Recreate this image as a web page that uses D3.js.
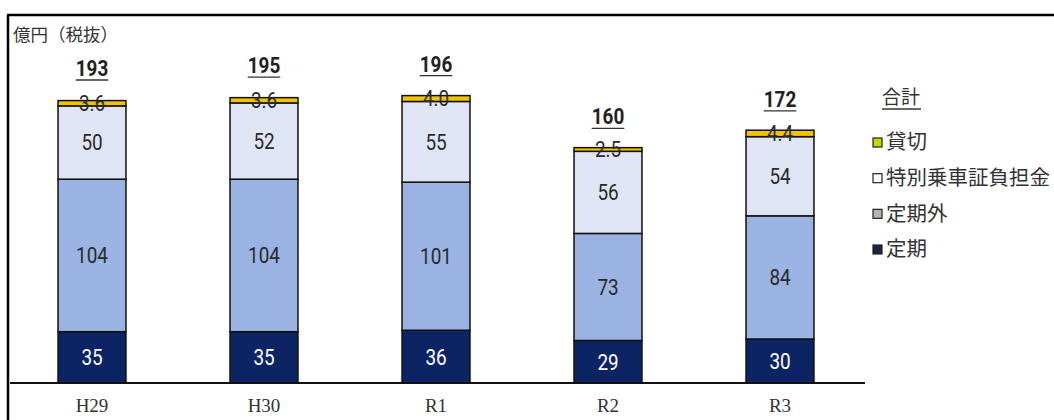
<!DOCTYPE html>
<html lang="ja">
<head>
<meta charset="UTF-8">
<title>収入の推移</title>
<script src="https://d3js.org/d3.v7.min.js"></script>
<style>
  body { margin: 0; background: #fff; }
  svg { display: block; }
  .seg-label { font-family: Roboto, "Noto Sans", sans-serif; font-size: 22px; text-anchor: middle; }
  .total { font-family: Roboto, "Noto Sans", sans-serif; font-size: 22px; font-weight: bold; fill: #222; text-anchor: middle; }
  .xlab { font-family: "Liberation Serif", serif; font-size: 19px; fill: #333; text-anchor: middle; }
  .jp { font-family: "Noto Sans CJK JP", sans-serif; fill: #333; }
</style>
</head>
<body>
<svg id="chart" width="1054" height="420"></svg>
<script>
// data
const years = ["H29", "H30", "R1", "R2", "R3"];
const teiki = [35, 35, 36, 29, 30];
const teikigai = [104, 104, 101, 73, 84];
const tokubetsu = [50, 52, 55, 56, 54];
const kashikiri = [3.6, 3.6, 4.0, 2.5, 4.4];
const totals = [193, 195, 196, 160, 172];
const seriesNames = ["定期", "定期外", "特別乗車証負担金", "貸切"];
const labelTexts = {
    "貸切": ["3.6", "3.6", "4.0", "2.5", "4.4"]
};

const colors = {
    "定期": "#0c2464",
    "定期外": "#9ab3e2",
    "特別乗車証負担金": "#dfe5f4",
    "貸切": "#f2c400"
};
const legendColors = {
    "貸切": "#c4d600",
    "特別乗車証負担金": "#ffffff",
    "定期外": "#b4b4b4",
    "定期": "#1a2540"
};

const rows = years.map((y, i) => ({
    year: y,
    "定期": teiki[i],
    "定期外": teikigai[i],
    "特別乗車証負担金": tokubetsu[i],
    "貸切": kashikiri[i],
    total: totals[i]
}));

const svg = d3.select("#chart");
const baseY = 383;
const squeeze = 0.86; // narrow look of the numbers

const x = d3.scaleBand()
    .domain(years)
    .range([6, 866])
    .paddingInner(0.605)
    .paddingOuter(0.3025);

const y = d3.scaleLinear()
    .domain([0, 193])
    .range([baseY, 100]);

const stack = d3.stack().keys(seriesNames);
const stacked = stack(rows);

// frame lines
svg.append("line")
    .attr("x1", 7).attr("x2", 1054).attr("y1", 15).attr("y2", 15)
    .attr("stroke", "#000").attr("stroke-width", 2.5);
svg.append("line")
    .attr("x1", 8).attr("x2", 8).attr("y1", 15).attr("y2", 420)
    .attr("stroke", "#000").attr("stroke-width", 2.5);

// unit label
svg.append("text")
    .attr("class", "jp")
    .attr("x", 13).attr("y", 41)
    .style("font-size", "17.5px")
    .text("億円（税抜）");

// bars
const layers = svg.selectAll(".layer")
    .data(stacked)
    .enter().append("g")
    .attr("class", "layer")
    .attr("fill", d => colors[d.key]);

layers.selectAll("rect")
    .data(d => d)
    .enter().append("rect")
    .attr("x", d => x(d.data.year))
    .attr("width", x.bandwidth())
    .attr("y", d => y(d[1]))
    .attr("height", d => y(d[0]) - y(d[1]))
    .attr("stroke", "#111")
    .attr("stroke-width", 1.5);

// segment labels
stacked.forEach(layer => {
    svg.selectAll(null)
        .data(layer)
        .enter().append("text")
        .attr("class", "seg-label")
        .attr("transform", d => `translate(${x(d.data.year) + x.bandwidth() / 2},${(y(d[0]) + y(d[1])) / 2}) scale(${squeeze},1)`)
        .attr("dy", "0.36em")
        .attr("fill", layer.key === "定期" ? "#fff" : "#2a2a2a")
        .text((d, i) => labelTexts[layer.key] ? labelTexts[layer.key][i] : d.data[layer.key]);
});

// totals, underlined
const totalG = svg.selectAll(".tot")
    .data(rows)
    .enter().append("g")
    .attr("class", "tot");

totalG.append("text")
    .attr("class", "total")
    .attr("transform", d => `translate(${x(d.year) + x.bandwidth() / 2},${y(d.total) - 24}) scale(${squeeze},1)`)
    .text(d => d.total);

totalG.each(function(d) {
    const g = d3.select(this);
    const w = g.select("text").node().getComputedTextLength() * squeeze;
    const cx = x(d.year) + x.bandwidth() / 2;
    g.append("line")
        .attr("x1", cx - w / 2).attr("x2", cx + w / 2)
        .attr("y1", y(d.total) - 20).attr("y2", y(d.total) - 20)
        .attr("stroke", "#333").attr("stroke-width", 1.3);
});

// baseline axis
svg.append("line")
    .attr("x1", 10).attr("x2", 865)
    .attr("y1", baseY).attr("y2", baseY)
    .attr("stroke", "#111").attr("stroke-width", 2);

svg.selectAll(".xlab")
    .data(years)
    .enter().append("text")
    .attr("class", "xlab")
    .attr("x", d => x(d) + x.bandwidth() / 2)
    .attr("y", 412)
    .text(d => d);

// legend
const legendOrder = ["貸切", "特別乗車証負担金", "定期外", "定期"];
const lg = svg.append("g").attr("transform", "translate(873,0)");

lg.append("text")
    .attr("class", "jp")
    .attr("x", 9).attr("y", 104)
    .style("font-size", "19px")
    .text("合計");
lg.append("line")
    .attr("x1", 9).attr("x2", 48).attr("y1", 109).attr("y2", 109)
    .attr("stroke", "#333").attr("stroke-width", 1.3);

const ly = d3.scalePoint().domain(legendOrder).range([142, 249]);

const items = lg.selectAll(".li")
    .data(legendOrder)
    .enter().append("g")
    .attr("class", "li")
    .attr("transform", d => `translate(0,${ly(d)})`);

items.append("rect")
    .attr("x", 0).attr("y", -4)
    .attr("width", 9).attr("height", 9)
    .attr("fill", d => legendColors[d])
    .attr("stroke", "#222").attr("stroke-width", 1.2);

items.append("text")
    .attr("class", "jp")
    .attr("x", 13).attr("y", 0)
    .attr("dy", "0.36em")
    .style("font-size", "20.5px")
    .text(d => d);
</script>
</body>
</html>
